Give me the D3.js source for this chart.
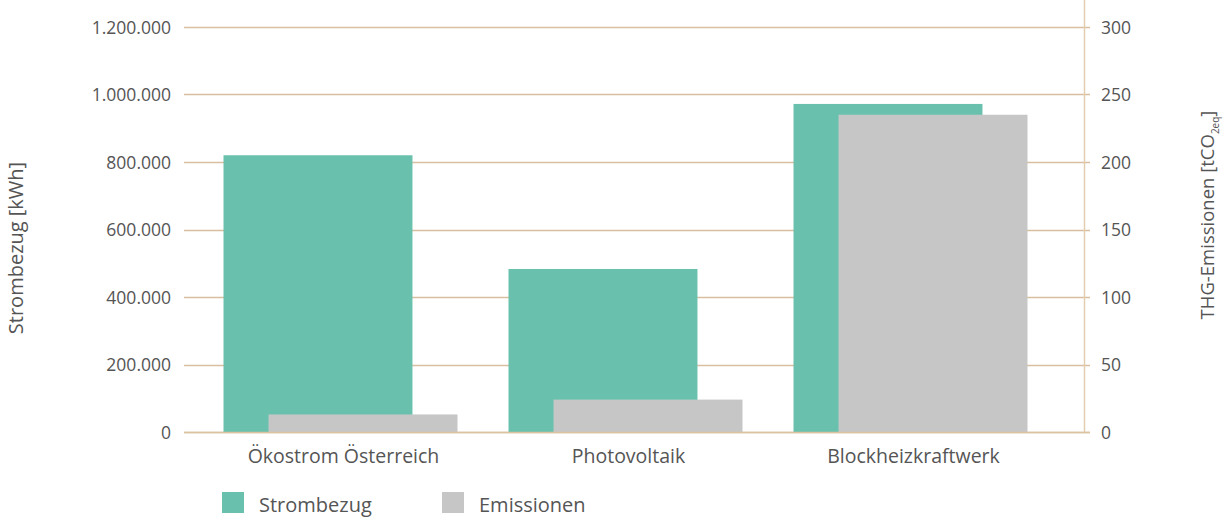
<!DOCTYPE html>
<html>
<head>
<meta charset="utf-8">
<script src="https://cdn.jsdelivr.net/npm/d3@7"></script>
<style>
  body { margin: 0; background: #fff; }
  svg text { font-family: "Open Sans", Lato, sans-serif; font-weight: 400; fill: #555; }
</style>
</head>
<body>
<svg width="1232" height="517"></svg>
<script>
// data
const categories = ['Ökostrom Österreich', 'Photovoltaik', 'Blockheizkraftwerk'];
const strombezug = [820000, 483000, 972000];   // kWh
const emissionen = [13, 24, 235];              // tCO2eq
const leftTicks = [0, 200000, 400000, 600000, 800000, 1000000, 1200000];
const rightTicks = [0, 50, 100, 150, 200, 250, 300];

const svg = d3.select('svg');
const width = +svg.attr('width');
const height = +svg.attr('height');

const plotLeft = 184, plotRight = 1084, plotTop = 27, plotBottom = 432;

// scales
const xScale = d3.scaleBand()
    .domain(categories)
    .range([198, 1053])
    .padding(0);
const yLeft = d3.scaleLinear().domain([0, 1200000]).range([plotBottom, plotTop]);
const yRight = d3.scaleLinear().domain([0, 300]).range([plotBottom, plotTop]);

const fmt = d => d3.format(',')(d).replace(/,/g, '.');

// gridlines
svg.append('g')
  .selectAll('line')
  .data(leftTicks)
  .enter()
  .append('line')
    .attr('x1', plotLeft)
    .attr('x2', plotRight + 6)
    .attr('y1', d => Math.round(yLeft(d)) + 0.5)
    .attr('y2', d => Math.round(yLeft(d)) + 0.5)
    .attr('stroke', '#d8bf9f')
    .attr('stroke-width', 1.3);

// left axis labels
const leftAxis = svg.append('g')
    .attr('transform', `translate(${plotLeft - 13},0)`)
    .call(d3.axisLeft(yLeft).tickValues(leftTicks).tickFormat(fmt).tickSize(0).tickPadding(0));
leftAxis.select('.domain').remove();
leftAxis.selectAll('text').style('font-size', '17.5px').attr('dy', '0.35em');

// right axis
const rightAxis = svg.append('g')
    .attr('transform', `translate(${plotRight},0)`)
    .call(d3.axisRight(yRight).tickValues(rightTicks).tickSize(0).tickPadding(17));
rightAxis.select('.domain').remove();
rightAxis.selectAll('text').style('font-size', '17.5px').attr('dy', '0.35em');
svg.append('line')
    .attr('x1', plotRight + 0.5).attr('x2', plotRight + 0.5)
    .attr('y1', 0).attr('y2', plotBottom)
    .attr('stroke', '#e2cdb0')
    .attr('stroke-width', 1.5);

// bars
const bw = xScale.bandwidth();
const barW = bw * 0.663;
const offset = bw * 0.158;

svg.append('g')
  .selectAll('rect')
  .data(categories)
  .enter()
  .append('rect')
    .attr('x', d => xScale(d) + (bw - barW - offset) / 2)
    .attr('y', (d, i) => yLeft(strombezug[i]))
    .attr('width', barW)
    .attr('height', (d, i) => plotBottom - yLeft(strombezug[i]))
    .attr('fill', '#69c1ad');

svg.append('g')
  .selectAll('rect')
  .data(categories)
  .enter()
  .append('rect')
    .attr('x', d => xScale(d) + (bw - barW - offset) / 2 + offset)
    .attr('y', (d, i) => yRight(emissionen[i]))
    .attr('width', barW)
    .attr('height', (d, i) => plotBottom - yRight(emissionen[i]))
    .attr('fill', '#c6c6c6');

// baseline
svg.append('line')
    .attr('x1', plotLeft).attr('x2', plotRight + 6)
    .attr('y1', plotBottom + 0.5).attr('y2', plotBottom + 0.5)
    .attr('stroke', '#dcc3a3')
    .attr('stroke-width', 1.5);

// x labels
svg.append('g')
  .selectAll('text')
  .data(categories)
  .enter()
  .append('text')
    .attr('x', d => xScale(d) + bw / 2 + 3)
    .attr('y', 463)
    .attr('text-anchor', 'middle')
    .style('font-size', '19.5px')
    .text(d => d);

// axis titles
svg.append('text')
    .attr('transform', 'translate(23,248) rotate(-90)')
    .attr('text-anchor', 'middle')
    .style('font-size', '20px')
    .text('Strombezug [kWh]');

const rt = svg.append('text')
    .attr('transform', 'translate(1214,215) rotate(-90)')
    .attr('text-anchor', 'middle')
    .style('font-size', '18.5px');
rt.append('tspan').text('THG-Emissionen [tCO');
rt.append('tspan').attr('dy', 5).style('font-size', '10px').text('2eq');
rt.append('tspan').attr('dy', -5).text(']');

// legend
const legend = [['Strombezug', '#69c1ad', 222], ['Emissionen', '#c6c6c6', 442]];
legend.forEach(([label, color, x]) => {
  svg.append('rect').attr('x', x).attr('y', 492).attr('width', 22).attr('height', 21).attr('fill', color);
  svg.append('text').attr('x', x + 37).attr('y', 512).style('font-size', '20px').text(label);
});
</script>
</body>
</html>
